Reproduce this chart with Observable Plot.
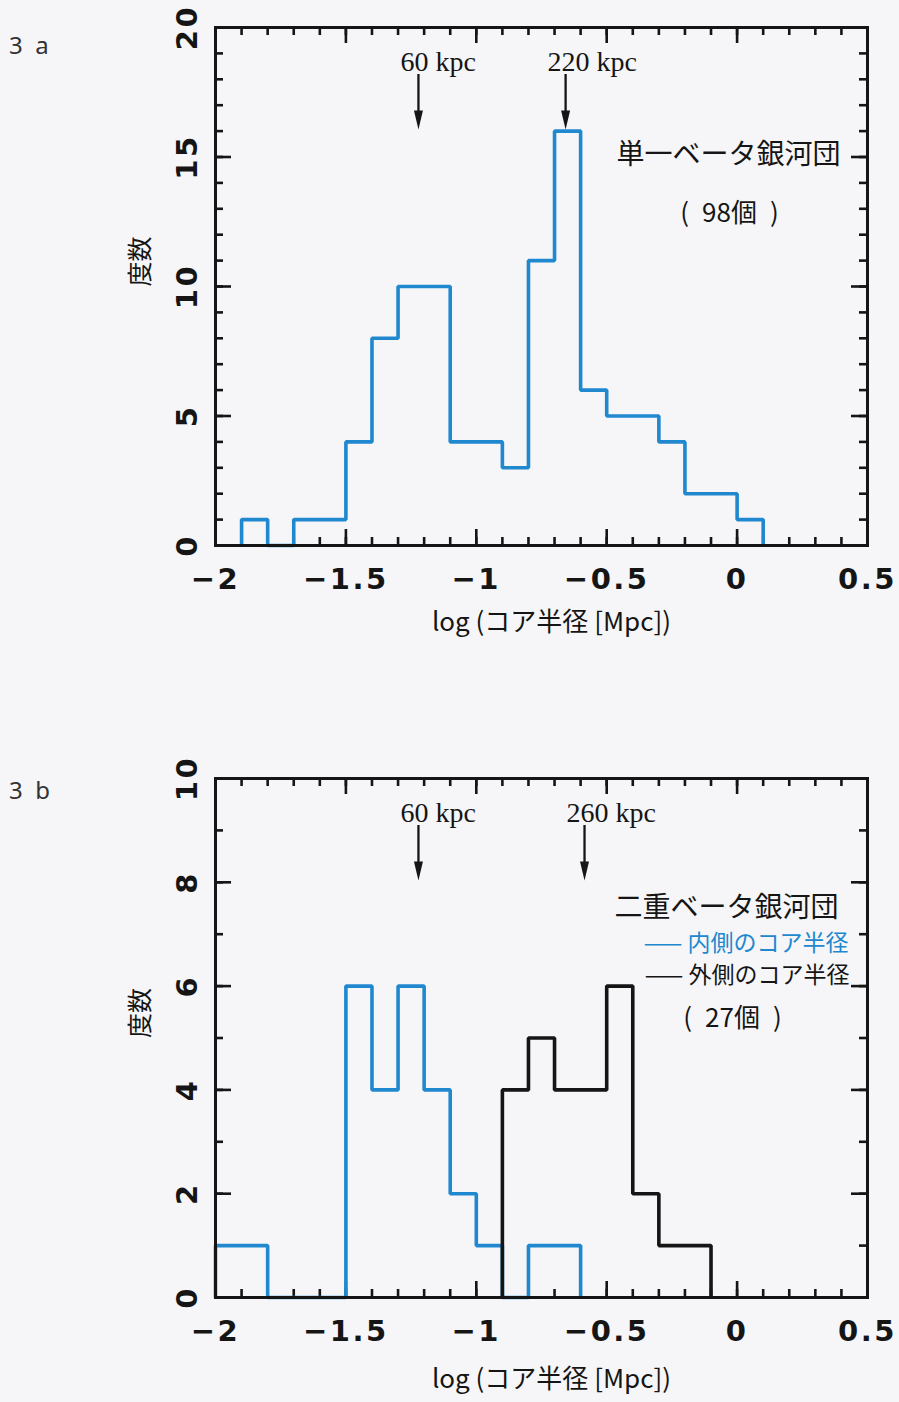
<!DOCTYPE html>
<html>
<head>
<meta charset="utf-8">
<script src="https://cdn.jsdelivr.net/npm/d3@7"></script>
<script src="https://cdn.jsdelivr.net/npm/@observablehq/plot@0.6"></script>
<style>
  html, body { margin: 0; padding: 0; background: #f6f6f8; }
  #wrap { position: relative; width: 899px; height: 1402px; overflow: hidden; }
  .panel { position: absolute; left: 0; }
  .tag { position: absolute; left: 9px; font: 24px "Noto Sans", sans-serif; color: #333; }
</style>
</head>
<body>
<div id="wrap">
  <div class="panel" id="pa" style="top:0"></div>
  <div class="panel" id="pb" style="top:660px"></div>
  <div class="tag" style="top:28px">3&nbsp;&nbsp;a</div>
  <div class="tag" style="top:773px">3&nbsp;&nbsp;b</div>
</div>
<script>
// ---------- data ----------
const xMajor = [-2, -1.5, -1, -0.5, 0, 0.5];
const yMajorA = [0, 5, 10, 15, 20];
const yMajorB = [0, 2, 4, 6, 8, 10];

// Fig 3a : single-beta clusters (98)
const edgesA  = [-1.9, -1.8, -1.7, -1.6, -1.5, -1.4, -1.3, -1.2, -1.1, -1.0, -0.9, -0.8, -0.7, -0.6, -0.5, -0.4, -0.3, -0.2, -0.1, 0.0];
const endA = 0.1;
const countsA = [1, 0, 1, 1, 4, 8, 10, 10, 4, 4, 3, 11, 16, 6, 5, 5, 4, 2, 2, 1];

// Fig 3b : double-beta clusters (27), inner core radius
const edgesBIn  = [-2.0, -1.9, -1.8, -1.7, -1.6, -1.5, -1.4, -1.3, -1.2, -1.1, -1.0, -0.9, -0.8, -0.7];
const endBIn = -0.6;
const countsBIn = [1, 1, 0, 0, 0, 6, 4, 6, 4, 2, 1, 0, 1, 1];

// Fig 3b : outer core radius
const edgesBOut  = [-0.9, -0.8, -0.7, -0.6, -0.5, -0.4, -0.3, -0.2];
const endBOut = -0.1;
const countsBOut = [4, 5, 4, 4, 6, 2, 1, 1];

const arrowsA = [{label: "60 kpc", kpc: 60}, {label: "220 kpc", kpc: 220}];
const arrowsB = [{label: "60 kpc", kpc: 60}, {label: "260 kpc", kpc: 260}];

const xLabel = "log (コア半径 [Mpc])";
const yLabel = "度数";
const titleA = "単一ベータ銀河団";
const countA = "(\u200298個\u2002)";
const titleB = "二重ベータ銀河団";
const legendIn = "—— 内側のコア半径";
const legendOut = "—— 外側のコア半径";
const countB = "(\u200227個\u2002)";

// ---------- helpers ----------
const BLUE = "#2088cf";
const INK = "#151515";
const TICKFONT = "'DejaVu Sans', sans-serif";
const JP = "'Noto Sans CJK JP', sans-serif";

function steps(edges, end, counts) {
  const pts = [{x: edges[0], y: 0}];
  edges.forEach((e, i) => pts.push({x: e, y: counts[i]}));
  pts.push({x: end, y: 0});
  return pts;
}

const arrowHead = {
  draw(context) {
    const h = 19, w = 4.5;
    context.moveTo(0, 0);
    context.lineTo(-w, -h);
    context.lineTo(w, -h);
    context.closePath();
  }
};

function panel({height, marginTop, marginBottom, yDomain, yMajor, series, arrows, notes, xLabelDy}) {
  const marginLeft = 215, marginRight = 32, width = 899;
  const W = width - marginLeft - marginRight;
  const H = height - marginTop - marginBottom;
  const xMinor = d3.range(-20, 6).map(i => i / 10);
  const yMinor = d3.range(yDomain[0], yDomain[1] + 1);
  const minor = 8, major = 16, tw = 2.6;
  const marks = [];
  // ticks (inside, on all four sides)
  marks.push(
    Plot.tickX(xMinor, {x: d => d, insetTop: H - minor, stroke: INK, strokeWidth: tw}),
    Plot.tickX(xMinor, {x: d => d, insetBottom: H - minor, stroke: INK, strokeWidth: tw}),
    Plot.tickX(xMajor, {x: d => d, insetTop: H - major, stroke: INK, strokeWidth: tw}),
    Plot.tickX(xMajor, {x: d => d, insetBottom: H - major, stroke: INK, strokeWidth: tw}),
    Plot.tickY(yMinor, {y: d => d, insetRight: W - minor, stroke: INK, strokeWidth: tw}),
    Plot.tickY(yMinor, {y: d => d, insetLeft: W - minor, stroke: INK, strokeWidth: tw}),
    Plot.tickY(yMajor, {y: d => d, insetRight: W - major, stroke: INK, strokeWidth: tw}),
    Plot.tickY(yMajor, {y: d => d, insetLeft: W - major, stroke: INK, strokeWidth: tw})
  );
  // histograms
  for (const s of series) {
    marks.push(Plot.line(s.points, {x: "x", y: "y", curve: "step-after", stroke: s.color,
      strokeWidth: 3.6, strokeLinejoin: "miter", strokeLinecap: "butt"}));
  }
  // frame
  marks.push(Plot.frame({stroke: INK, strokeWidth: 3}));
  // axes labels
  marks.push(
    Plot.axisX({anchor: "bottom", ticks: xMajor, tickSize: 0, tickPadding: 23, tickFormat: d3.format(""),
      label: null, fontFamily: TICKFONT, fontWeight: "bold", fontSize: 29, fill: INK}),
    Plot.axisY({anchor: "left", ticks: yMajor, tickSize: 0, tickRotate: -90, tickPadding: 19,
      tickFormat: d3.format(""), label: null, fontFamily: TICKFONT, fontWeight: "bold", fontSize: 29, fill: INK}),
    Plot.text([xLabel], {frameAnchor: "bottom", dx: 10, dy: xLabelDy, text: d => d, fontFamily: JP,
      fontSize: 26, fill: INK, lineAnchor: "middle"}),
    Plot.text([yLabel], {frameAnchor: "left", dx: -75, text: d => d, rotate: -90, fontFamily: JP,
      fontSize: 25, fill: INK, lineAnchor: "middle"})
  );
  // arrows
  const ax = d => Math.log10(d.kpc / 1000);
  marks.push(
    Plot.ruleX(arrows, {x: ax, insetTop: 47, insetBottom: H - 88, stroke: INK, strokeWidth: 2.3}),
    Plot.dot(arrows, {x: ax, frameAnchor: "top", dy: 102, symbol: arrowHead, fill: INK, stroke: "none"}),
    Plot.text(arrows, {x: ax, frameAnchor: "top", dy: 35, dx: -18, text: "label", textAnchor: "start",
      fontFamily: "'Liberation Serif', serif", fontSize: 28, fill: INK, lineAnchor: "middle"})
  );
  // notes
  for (const n of notes) {
    marks.push(Plot.text([n.text], {frameAnchor: "top-right", dx: n.dx, dy: n.dy, text: d => d,
      textAnchor: n.anchor || "end", fontFamily: JP, fontSize: n.size, fill: n.color || INK, lineAnchor: "middle"}));
  }
  const svg = Plot.plot({
    width, height, marginLeft, marginRight, marginTop, marginBottom,
    x: {domain: [-2, 0.5], axis: null},
    y: {domain: yDomain, axis: null},
    style: {background: "transparent", overflow: "visible"},
    marks
  });
  svg.querySelectorAll('g[aria-label="x-axis tick label"] text, g[aria-label="y-axis tick label"] text')
    .forEach(t => t.setAttribute("letter-spacing", "2.5"));
  return svg;
}

const pa = panel({
  height: 660, marginTop: 27, marginBottom: 115, yDomain: [0, 20], yMajor: yMajorA,
  series: [{points: steps(edgesA, endA, countsA), color: BLUE}],
  arrows: arrowsA, xLabelDy: 77,
  notes: [
    {text: titleA, dx: -27, dy: 128, size: 28},
    {text: countA, dx: -138, dy: 186, size: 26, anchor: "middle"}
  ]
});
document.getElementById("pa").appendChild(pa);

const pb = panel({
  height: 742, marginTop: 118, marginBottom: 105, yDomain: [0, 10], yMajor: yMajorB,
  series: [
    {points: steps(edgesBIn, endBIn, countsBIn), color: BLUE},
    {points: steps(edgesBOut, endBOut, countsBOut), color: INK}
  ],
  arrows: arrowsB, xLabelDy: 82,
  notes: [
    {text: titleB, dx: -29, dy: 130, size: 28},
    {text: legendIn, dx: -19, dy: 165, size: 23, color: BLUE},
    {text: legendOut, dx: -18, dy: 197, size: 23},
    {text: countB, dx: -135, dy: 240, size: 26, anchor: "middle"}
  ]
});
document.getElementById("pb").appendChild(pb);
</script>
</body>
</html>
